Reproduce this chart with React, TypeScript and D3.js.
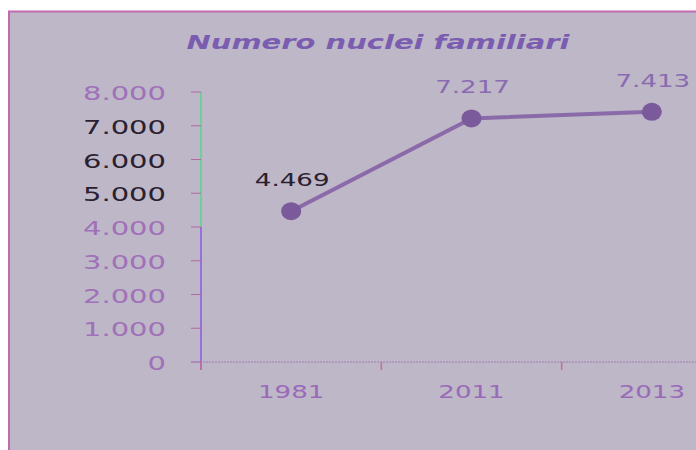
import React from 'react';
import * as d3 from 'd3';

// values
const years = ['1981', '2011', '2013'];
const households = [4469, 7217, 7413];
const yTicks = [0, 1000, 2000, 3000, 4000, 5000, 6000, 7000, 8000];
const darkTicks = [5000, 6000, 7000];
const title = 'Numero nuclei familiari';

const W = 696;
const H = 450;
const stretch = 1.45; // glyphs in the picture are drawn wide

const fmt = (v: number) => d3.format(',')(v).replace(/,/g, '.');

const App = () => {
	const plot = { left: 201, right: 742, top: 92, bottom: 362 };

	const x = d3.scaleBand().domain(years).range([plot.left, plot.right]);
	const y = d3.scaleLinear().domain([0, 8000]).range([plot.bottom, plot.top]);

	const pts = years.map((yr, i) => [x(yr)! + x.bandwidth() / 2, y(households[i])] as [number, number]);
	const path = d3.line()(pts);

	const font = 'DejaVu Sans, Verdana, sans-serif';
	const wideText = (tx: number, ty: number) => `translate(${tx},${ty}) scale(${stretch},1)`;

	return (
		<svg width={W} height={H} style={{ position: 'absolute', left: 0, top: 0 }}>
			<rect x={9} y={11.5} width={W} height={H} fill="#bdb7c7" stroke="#c06ab0" strokeWidth={2} />

			<text
				transform={wideText((W + 60) / 2, 49)}
				textAnchor="middle"
				fontFamily={font}
				fontSize={20}
				fontWeight="bold"
				fontStyle="italic"
				fill="#7a5cb0"
			>
				{title}
			</text>

			{/* y axis */}
			<line x1={plot.left} x2={plot.left} y1={y(8000)} y2={y(4000)} stroke="#6fcf9a" strokeWidth={2} />
			<line x1={plot.left} x2={plot.left} y1={y(4000)} y2={plot.bottom + 8} stroke="#9a70e0" strokeWidth={2} />
			{yTicks.map((t) => (
				<g key={t}>
					<line x1={plot.left - 10} x2={plot.left} y1={y(t)} y2={y(t)} stroke="#b06aa0" strokeWidth={1} />
					<text
						transform={wideText(166, y(t) + 8)}
						textAnchor="end"
						fontFamily={font}
						fontSize={20}
						fill={darkTicks.includes(t) ? '#2a2030' : '#a070b8'}
					>
						{fmt(t)}
					</text>
				</g>
			))}

			{/* x axis */}
			<line x1={plot.left - 10} x2={W} y1={plot.bottom} y2={plot.bottom} stroke="#a07ab8" strokeWidth={1} strokeDasharray="2 1" />
			{years.map((yr) => (
				<g key={yr}>
					<line x1={x(yr)!} x2={x(yr)!} y1={plot.bottom} y2={plot.bottom + 8} stroke="#c0709a" strokeWidth={1.5} />
					<text
						transform={wideText(x(yr)! + x.bandwidth() / 2, 398)}
						textAnchor="middle"
						fontFamily={font}
						fontSize={18}
						fill="#9a6ab8"
					>
						{yr}
					</text>
				</g>
			))}

			{/* series */}
			<path d={path ?? ''} fill="none" stroke="#8a6aa8" strokeWidth={4} />
			{pts.map((p, i) => (
				<g key={years[i]}>
					<ellipse cx={p[0]} cy={p[1]} rx={10} ry={9} fill="#7a5a9a" />
					<text
						transform={wideText(p[0] + 1, p[1] - 25)}
						textAnchor="middle"
						fontFamily={font}
						fontSize={18}
						fill={i === 0 ? '#2a2030' : '#8a6ab0'}
					>
						{fmt(households[i])}
					</text>
				</g>
			))}
		</svg>
	);
};

export default App;
